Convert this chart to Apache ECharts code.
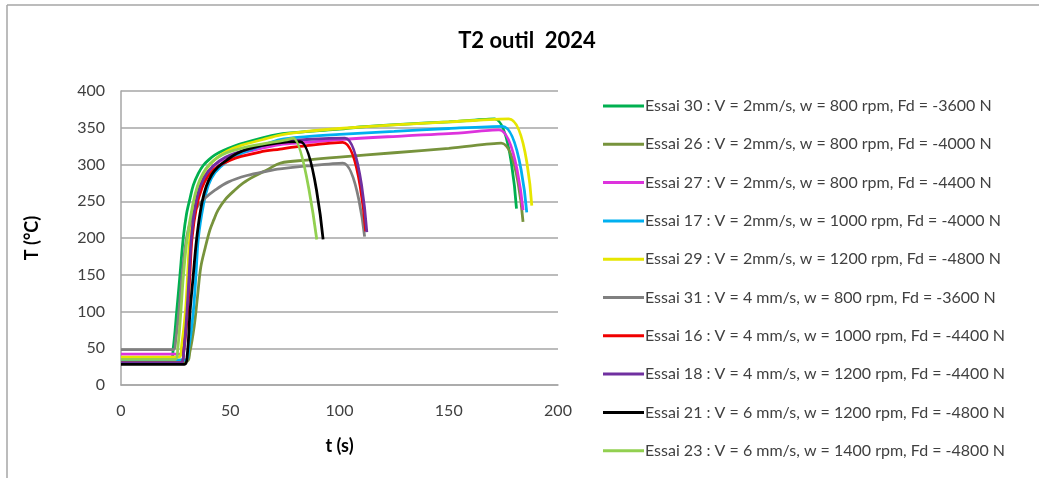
<!DOCTYPE html>
<html>
<head>
<meta charset="utf-8">
<script src="https://cdn.jsdelivr.net/npm/echarts@6/dist/echarts.min.js"></script>
<style>
  html, body { margin: 0; padding: 0; background: #fff; }
  #chart { width: 1039px; height: 478px; }
</style>
</head>
<body>
<div id="chart"></div>
<script>
// Tool temperature T2 versus time, one curve per trial: [t (s), T (°C)]
const essai30 = [[0,33],[22.5,33],[23.9,50],[25.5,100],[27,150],[28.5,200],[30,233],[31.6,254],[33.1,272],[35.4,288],[37.7,299],[40,306],[43,313],[46.8,319],[56,329],[72,341],[86.5,345],[100,348],[109.4,351],[130,355],[150,358],[171,362],[181,240]];
const essai26 = [[0,32],[30,32],[31.5,45],[33.5,80],[35,120],[36.5,160],[38.4,185],[40.7,211],[42.5,225],[44.4,238],[47.6,252],[52,265],[56,275],[61,284],[67,293],[73,302],[85,306],[100,310],[125,316],[150,322],[174,329],[184,222]];
const essai27 = [[0,42],[27,42],[28.3,55],[30,100],[31,150],[32,200],[34,245],[36.5,272],[40,291],[45,304],[50,311],[60,319],[72.8,327],[85,330],[100,334],[130,339],[150,342],[173,347],[184,238]];
const essai17 = [[0,34],[29.5,34],[31,50],[33.1,100],[34.3,150],[35.4,200],[37.7,245],[40,272],[43,289],[48,303],[55,315],[65,326],[72.8,334],[85,338],[100,341],[125,345],[150,349],[174.6,352],[185.7,235]];
const essai29 = [[0,38],[26.5,38],[27.8,55],[29.5,100],[30.5,150],[31.5,200],[33.5,245],[36,274],[39,294],[43,307],[48.4,318],[55,326],[65,334],[72.8,340],[85,345],[100,349],[125,354],[150,358],[177.5,362],[188,244]];
const essai31 = [[0,48],[24,48],[25,60],[26.5,100],[28,150],[29.5,190],[31,214],[33,232],[35.5,245],[38.4,254],[43,265],[49,276],[57.6,285],[67,291],[72.8,294],[85,298],[101.5,302],[111.5,202]];
const essai16 = [[0,30],[27.5,30],[28.7,45],[30.5,100],[31.5,150],[32.5,200],[34.6,243],[37,268],[39.5,283],[42.5,293],[45.3,299],[50,306],[55,311],[63.6,317],[72.8,321],[80,324],[101.5,330],[112,209]];
const essai18 = [[0,30],[27.5,30],[28.7,45],[30.2,100],[31.2,150],[32.2,200],[34,243],[36.5,272],[40,291],[45,305],[50,313],[60,322],[72.8,331],[85,334],[102.5,336],[112.5,208]];
const essai21 = [[0,28],[29,28],[30.3,40],[31.6,100],[33.1,150],[34.3,190],[35.6,222],[37.2,250],[39,270],[41.5,286],[44.5,297],[48.4,306],[53,315],[59,322],[71.3,329],[82,331],[92.5,198]];
const essai23 = [[0,35],[25,35],[26,50],[27.4,100],[28.6,150],[30.3,200],[32.8,245],[35,271],[37.5,288],[40.5,300],[44,309],[48.4,316],[55,322],[65,328],[75,333],[78.8,336],[89.6,198]];

const seriesNames = [
  'Essai 30 : V = 2mm/s, w = 800 rpm, Fd = -3600 N',
  'Essai 26 : V = 2mm/s, w = 800 rpm, Fd = -4000 N',
  'Essai 27 : V = 2mm/s, w = 800 rpm, Fd = -4400 N',
  'Essai 17 : V = 2mm/s, w = 1000 rpm, Fd = -4000 N',
  'Essai 29 : V = 2mm/s, w = 1200 rpm, Fd = -4800 N',
  'Essai 31 : V = 4 mm/s, w = 800 rpm, Fd = -3600 N',
  'Essai 16 : V = 4 mm/s, w = 1000 rpm, Fd = -4400 N',
  'Essai 18 : V = 4 mm/s, w = 1200 rpm, Fd = -4400 N',
  'Essai 21 : V = 6 mm/s, w = 1200 rpm, Fd = -4800 N',
  'Essai 23 : V = 6 mm/s, w = 1400 rpm, Fd = -4800 N'
];
const seriesData = [essai30, essai26, essai27, essai17, essai29, essai31, essai16, essai18, essai21, essai23];
const seriesColors = ['#00B050', '#77933C', '#DD33DD', '#00B0F0', '#E6E600', '#808080', '#F00000', '#7030A0', '#000000', '#92D050'];

const FONT = 'Lato, "Open Sans", sans-serif';

const chart = echarts.init(document.getElementById('chart'), null, { renderer: 'canvas' });

chart.setOption({
  animation: false,
  backgroundColor: '#ffffff',
  textStyle: { fontFamily: FONT },
  title: {
    text: 'T2 outil  2024',
    left: 522,
    textAlign: 'center',
    top: 25,
    textStyle: { fontFamily: FONT, fontSize: 22, fontWeight: 'bold', color: '#000' }
  },
  graphic: [
    { type: 'line', shape: { x1: 7, y1: 5, x2: 1039, y2: 5 }, style: { stroke: '#A6A6A6', lineWidth: 1.5 } },
    { type: 'line', shape: { x1: 7, y1: 5, x2: 7, y2: 478 }, style: { stroke: '#A6A6A6', lineWidth: 1.5 } }
  ],
  legend: {
    orient: 'vertical',
    left: 598,
    top: 93,
    icon: 'rect',
    itemWidth: 41,
    itemHeight: 3,
    itemGap: 22.3,
    textStyle: { fontFamily: FONT, fontSize: 16, color: '#404040', lineHeight: 16, padding: [0, 0, 0, -4] },
    data: seriesNames
  },
  grid: { left: 121, top: 91, right: 481, bottom: 93, containLabel: false },
  xAxis: {
    type: 'value',
    min: 0, max: 200, interval: 50,
    name: 't (s)',
    nameLocation: 'middle',
    nameGap: 52,
    nameTextStyle: { fontFamily: FONT, fontSize: 18, fontWeight: 'bold', color: '#000' },
    axisLine: { show: true, lineStyle: { color: '#A6A6A6', width: 1.5 } },
    axisTick: { show: false },
    axisLabel: { fontSize: 16, color: '#404040', margin: 18, fontFamily: FONT },
    splitLine: { show: false }
  },
  yAxis: {
    type: 'value',
    min: 0, max: 400, interval: 50,
    name: 'T (°C)',
    nameLocation: 'middle',
    nameGap: 80,
    nameRotate: 90,
    nameTextStyle: { fontFamily: FONT, fontSize: 18, fontWeight: 'bold', color: '#000' },
    axisLine: { show: true, lineStyle: { color: '#A6A6A6', width: 1.5 } },
    axisTick: { show: false },
    axisLabel: { fontSize: 16, color: '#404040', margin: 16, fontFamily: FONT },
    splitLine: { show: true, lineStyle: { color: '#A6A6A6', width: 1.5 } }
  },
  series: seriesNames.map((name, i) => ({
    name,
    type: 'line',
    data: seriesData[i],
    showSymbol: false,
    smooth: 0.35,
    color: seriesColors[i],
    lineStyle: { width: 2.8, color: seriesColors[i] }
  }))
});
</script>
</body>
</html>
